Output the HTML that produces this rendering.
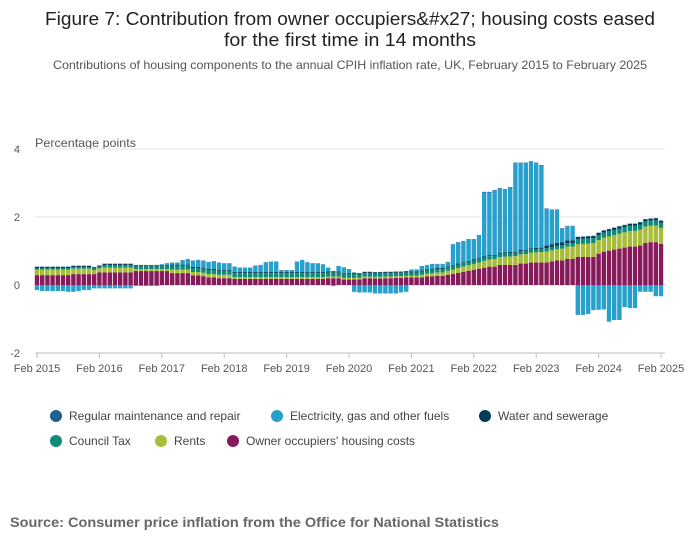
<!DOCTYPE html>
<html><head><meta charset="utf-8"><style>
body{margin:0;background:#fff;font-family:"Liberation Sans",sans-serif;}
svg text{font-family:"Liberation Sans",sans-serif;}
</style></head><body>
<svg id="chart" width="700" height="549" xmlns="http://www.w3.org/2000/svg">
<text x="350" y="25" text-anchor="middle" font-size="18" fill="#222" textLength="610" lengthAdjust="spacingAndGlyphs">Figure 7: Contribution from owner occupiers&amp;#x27; housing costs eased</text>
<text x="350" y="46" text-anchor="middle" font-size="18" fill="#222" textLength="252" lengthAdjust="spacingAndGlyphs">for the first time in 14 months</text>
<text x="350" y="69" text-anchor="middle" font-size="12" fill="#555" textLength="594" lengthAdjust="spacingAndGlyphs">Contributions of housing components to the annual CPIH inflation rate, UK, February 2015 to February 2025</text>
<text x="35" y="147" font-size="12" fill="#555" textLength="101" lengthAdjust="spacingAndGlyphs">Percentage points</text>
<g id="grid"></g><g id="bars"></g><g id="xaxis"></g>
<g id="legend" font-size="12" fill="#444">
<g><circle cx="56" cy="416" r="6" fill="#206095"/><text x="69" y="420">Regular maintenance and repair</text></g>
<g><circle cx="277" cy="416" r="6" fill="#27a0cc"/><text x="290" y="420">Electricity, gas and other fuels</text></g>
<g><circle cx="485" cy="416" r="6" fill="#003c57"/><text x="498" y="420">Water and sewerage</text></g>
<g><circle cx="56" cy="441" r="6" fill="#0f8c79"/><text x="69" y="445">Council Tax</text></g>
<g><circle cx="161" cy="441" r="6" fill="#a8bd3a"/><text x="174" y="445">Rents</text></g>
<g><circle cx="233" cy="441" r="6" fill="#871a5b"/><text x="246" y="445">Owner occupiers' housing costs</text></g>
</g>
<text x="10" y="527" font-size="14" font-weight="bold" fill="#666" textLength="489" lengthAdjust="spacingAndGlyphs">Source: Consumer price inflation from the Office for National Statistics</text>
</svg>
<script>
const years=["Feb 2015","Feb 2016","Feb 2017","Feb 2018","Feb 2019","Feb 2020","Feb 2021","Feb 2022","Feb 2023","Feb 2024","Feb 2025"];
const yTicks=[4,2,0,-2];
function rep(v,n){return Array(n).fill(v);}
const ooh=[].concat(rep(0.29,7),rep(0.32,5),rep(0.37,7),rep(0.41,7),rep(0.35,4),[0.28,0.28,0.26,0.22,0.22,0.2,0.2,0.2],rep(0.18,18),rep(0.2,3),rep(0.16,4),
[0.2,0.2,0.19,0.19,0.2,0.2,0.21,0.21,0.22,0.22,0.22],
[0.22,0.25,0.25,0.27,0.27,0.30,0.33,0.36,0.39,0.42,0.45,0.48,0.51,0.54,0.54,0.59,0.59,0.59,0.59,0.63,0.63,0.66,0.66,0.66,0.66,0.69,0.72,0.72,0.77,0.77,0.83,0.83,0.83,0.83,0.92,0.98,1.01,1.04,1.07,1.1,1.13,1.13,1.16,1.24,1.26,1.26,1.21]);
const rents=[].concat(rep(0.16,11),rep(0.12,2),rep(0.14,6),rep(0.06,7),rep(0.1,12),rep(0.05,36),
[0.08,0.08,0.1,0.1,0.1,0.12,0.12,0.14,0.15,0.16,0.17,0.18],
[0.2,0.21,0.22,0.23,0.24,0.25,0.26,0.27,0.28,0.29,0.3,0.31,0.32,0.33,0.34,0.35,0.36,0.36],
[0.37,0.38,0.39,0.4,0.4,0.41,0.42,0.43,0.44,0.45,0.46,0.46,0.47,0.48,0.48,0.49,0.47]);
const council=[].concat(rep(0.05,13),rep(0.08,13),rep(0.12,36),rep(0.1,42),rep(0.15,17));
const water=[].concat(rep(0.03,98),rep(0.08,6),rep(0.06,17));
const maint=[].concat(rep(0.01,86),rep(0.02,16),rep(0.01,19));
const elec=[-0.15,-0.18,-0.18,-0.18,-0.18,-0.18,-0.2,-0.2,-0.18,-0.15,-0.15,
-0.1,-0.1,-0.1,-0.1,-0.1,-0.1,-0.1,-0.1,-0.03,-0.03,-0.03,-0.03,-0.03,0.02,0.05,0.05,0.05,
0.12,0.15,0.18,0.2,0.2,0.2,0.22,0.2,0.18,0.18,
0.15,0.12,0.12,0.12,0.18,0.2,0.28,0.3,0.3,0.05,0.05,0.05,
0.3,0.35,0.28,0.25,0.25,0.22,0.1,-0.03,0.15,0.15,0.1,
-0.2,-0.22,-0.22,-0.22,-0.25,-0.25,-0.25,-0.25,-0.25,-0.22,-0.2,0.05,0.05,
0.12,0.12,0.13,0.11,0.11,0.12,0.61,0.62,0.61,0.63,0.59,0.67,
1.88,1.84,1.88,1.88,1.84,1.89,2.6,2.55,2.54,2.54,2.49,2.41,1.07,1.0,0.96,0.4,0.42,0.42,
-0.88,-0.88,-0.85,-0.74,-0.73,-0.72,-1.08,-1.03,-1.03,-0.65,-0.68,-0.68,-0.2,-0.2,-0.2,-0.33,-0.33];
const series=[["owner-occupiers",ooh,"#871a5b"],["rents",rents,"#a8bd3a"],["council-tax",council,"#0f8c79"],["water",water,"#003c57"],["electricity",elec,"#27a0cc"],["maintenance",maint,"#206095"]];
const NS="http://www.w3.org/2000/svg";
const x0=37,x1=661,n=121;
function xs(i){return x0+(x1-x0)*i/(n-1);}
function ys(v){return 285-v*34;}
const grid=document.getElementById("grid");
yTicks.forEach(t=>{
 const l=document.createElementNS(NS,"line");
 l.setAttribute("x1",35);l.setAttribute("x2",665);l.setAttribute("y1",ys(t));l.setAttribute("y2",ys(t));
 l.setAttribute("stroke",t===0?"#ccc":"#e6e6e6");
 
 
 grid.appendChild(l);
 const tx=document.createElementNS(NS,"text");
 tx.setAttribute("x",20);tx.setAttribute("y",ys(t)+4);tx.setAttribute("text-anchor","end");tx.setAttribute("font-size","11");tx.setAttribute("fill","#555");
 tx.textContent=t;
 
 
 grid.appendChild(tx);
});
const bars=document.getElementById("bars");
const bw=4.4;
for(let i=0;i<n;i++){
 let pos=0,neg=0;
 series.forEach(s=>{
  const v=s[1][i]; if(!v) return;
  const r=document.createElementNS(NS,"rect");
  let top,h;
  if(v>0){top=ys(pos+v);h=v*34;pos+=v;}else{top=ys(neg);h=-v*34;neg+=v;}
  r.setAttribute("x",xs(i)-bw/2);r.setAttribute("y",top);r.setAttribute("width",bw);r.setAttribute("height",h);r.setAttribute("fill",s[2]);
  
  
  bars.appendChild(r);
 });
}
const xa=document.getElementById("xaxis");
const ax=document.createElementNS(NS,"line");
ax.setAttribute("x1",35);ax.setAttribute("x2",665);ax.setAttribute("y1",353);ax.setAttribute("y2",353);ax.setAttribute("stroke","#bbb");


xa.appendChild(ax);
years.forEach((y,k)=>{
 const x=xs(k*12);
 const tk=document.createElementNS(NS,"line");
 tk.setAttribute("x1",x);tk.setAttribute("x2",x);tk.setAttribute("y1",353);tk.setAttribute("y2",358);tk.setAttribute("stroke","#bbb");
 
 
 xa.appendChild(tk);
 const t=document.createElementNS(NS,"text");
 t.setAttribute("x",x);t.setAttribute("y",372);t.setAttribute("text-anchor","middle");t.setAttribute("font-size","11");t.setAttribute("fill","#555");
 t.textContent=y;
 
 
 xa.appendChild(t);
});
</script>
</body></html>
